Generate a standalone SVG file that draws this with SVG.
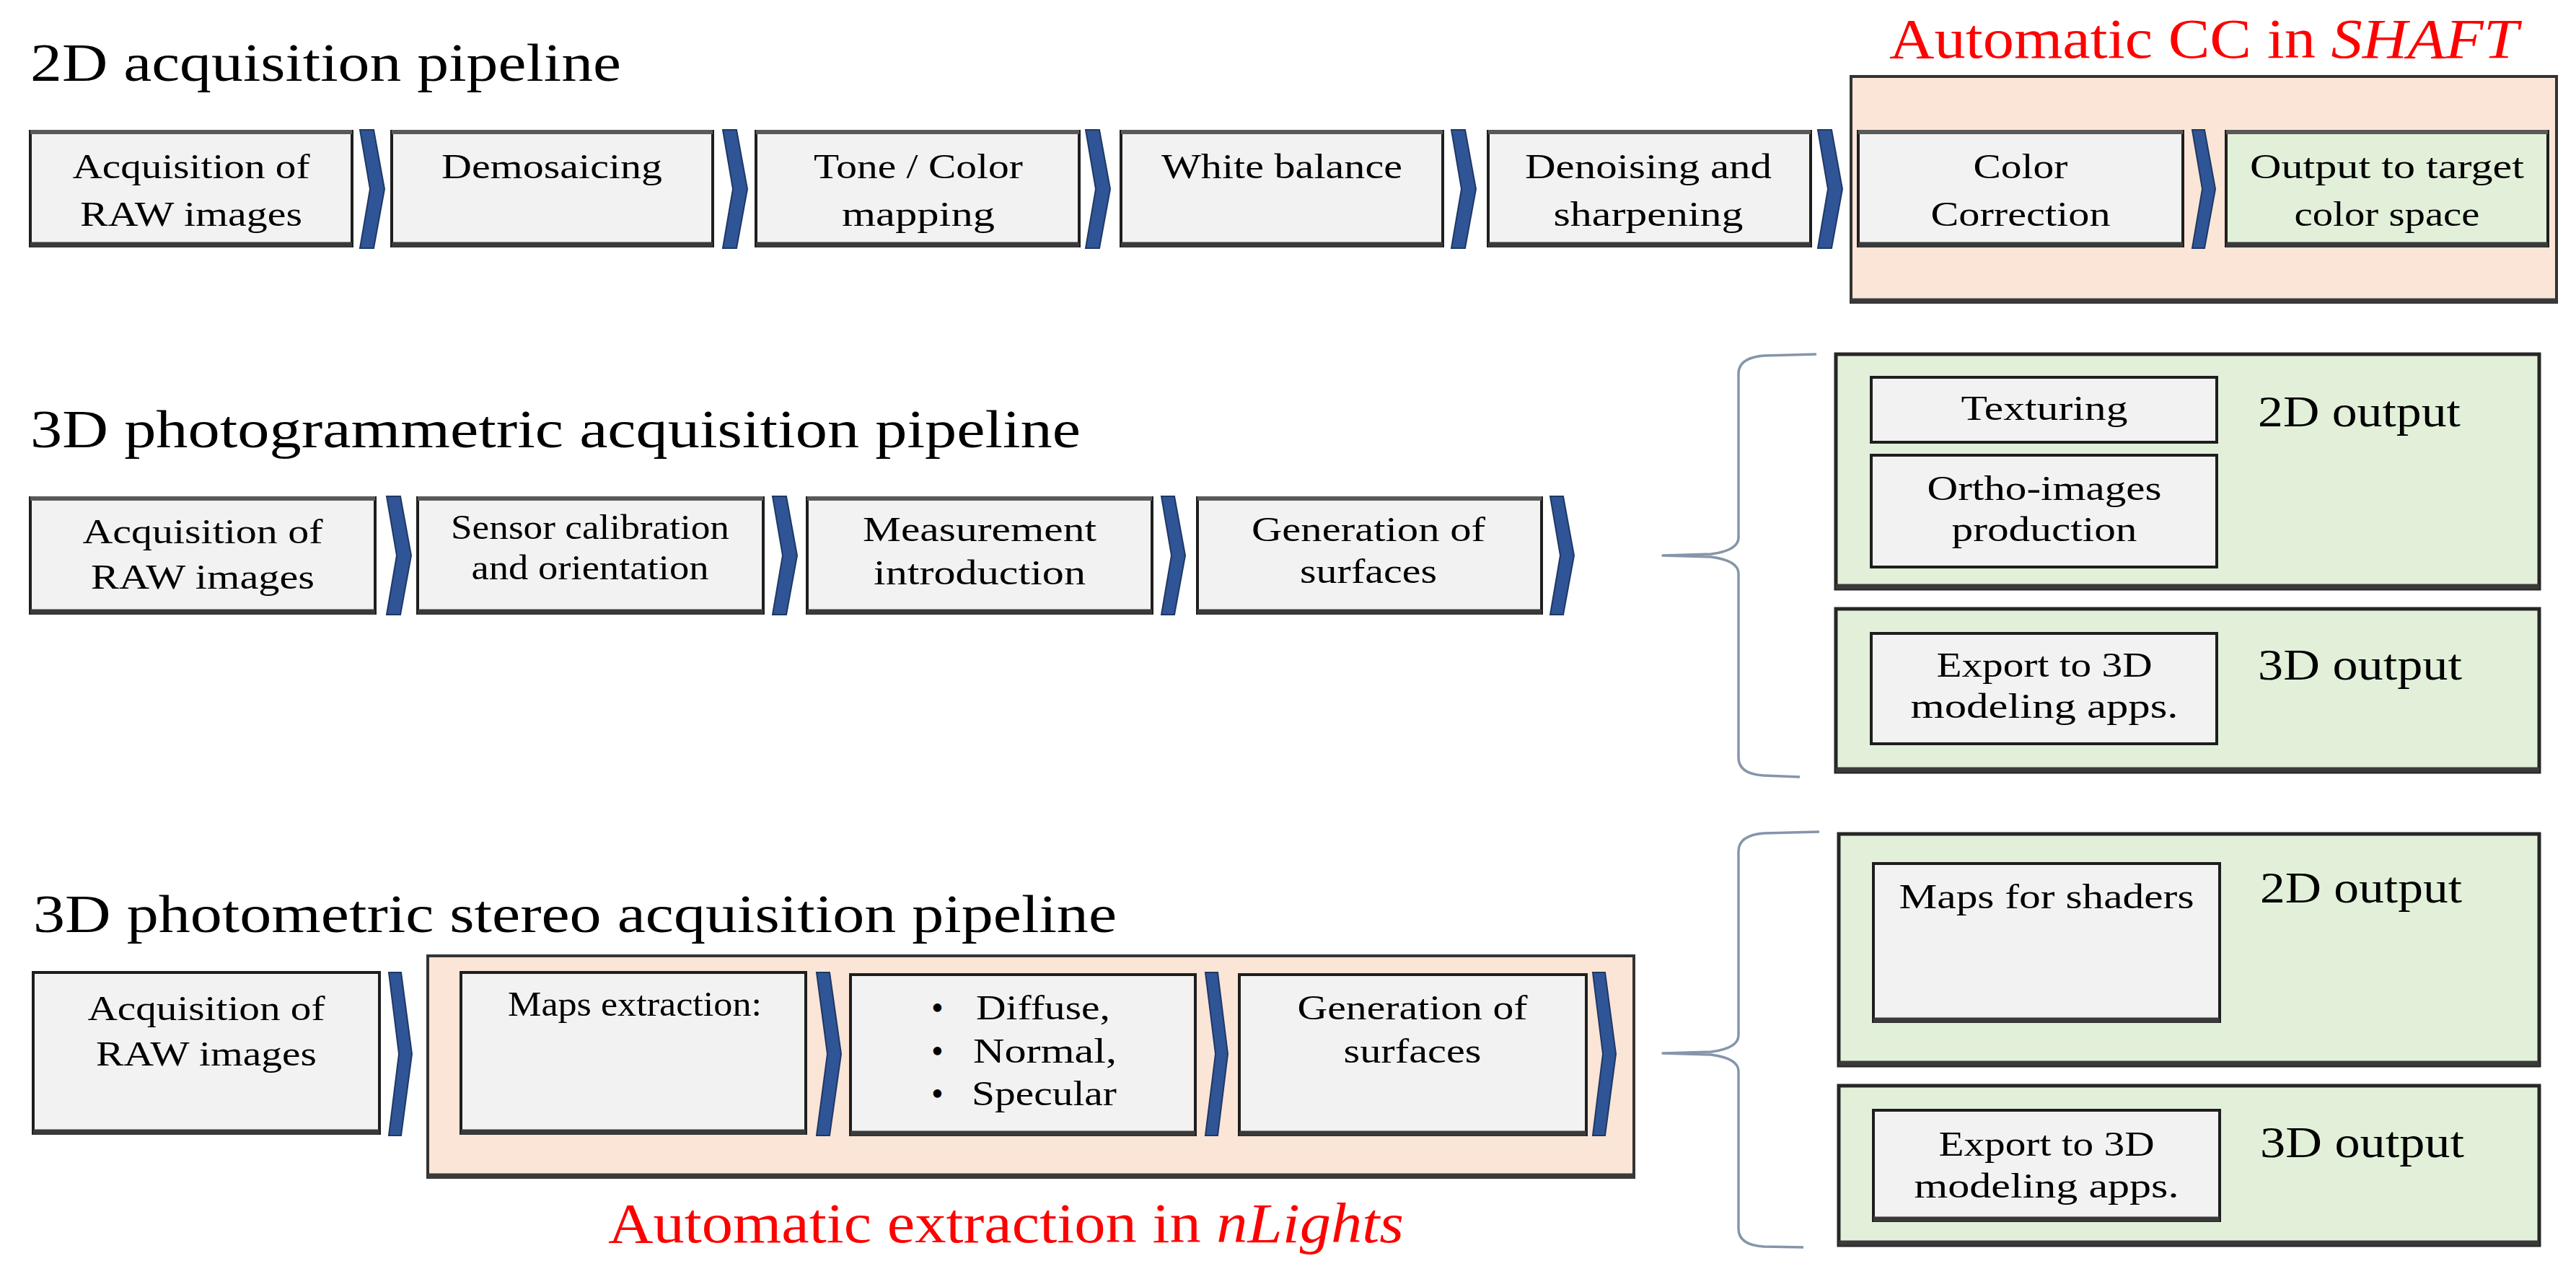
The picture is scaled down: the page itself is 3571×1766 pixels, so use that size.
<svg xmlns="http://www.w3.org/2000/svg" width="3571" height="1766" viewBox="0 0 3571 1766">
<style>
  text { font-family: "Liberation Serif", "Times New Roman", serif; fill: #000; }
  .title { font-size: 74px; }
  .bt { font-size: 48px; text-anchor: middle; }
  .bl { font-size: 48px; }
  .out { font-size: 62px; }
  .red { font-size: 78px; fill: #FF0000; }
  .box { fill: #F2F2F2; stroke: #1E1E1E; stroke-width: 4; }
  .topband { stroke: #595959; stroke-width: 6; }
  .botband { stroke: #3A3A3A; stroke-width: 7; }
  .grp-orange { fill: #FBE5D6; stroke: #333333; stroke-width: 4; }
  .grp-green { fill: #E2F0D9; stroke: #262626; stroke-width: 5; }
  .green-box { fill: #E2F0D9; stroke: #1E1E1E; stroke-width: 4; }
  .chev { fill: #2F5597; stroke: #1F3864; stroke-width: 2; stroke-linejoin: miter; }
  .brace { fill: none; stroke: #8595AA; stroke-width: 3.5; stroke-linejoin: round; }
</style>

<!-- Titles -->
<g id="titles">
  <text class="title" x="42" y="112" textLength="819" lengthAdjust="spacingAndGlyphs">2D acquisition pipeline</text>
  <text class="title" x="42" y="620" textLength="1456" lengthAdjust="spacingAndGlyphs">3D photogrammetric acquisition pipeline</text>
  <text class="title" x="46" y="1292" textLength="1502" lengthAdjust="spacingAndGlyphs">3D photometric stereo acquisition pipeline</text>
</g>

<!-- Group containers -->
<g id="group-shaft">
  <rect class="grp-orange" x="2566" y="106" width="978" height="313"/>
  <line class="botband" x1="2566" y1="417" x2="3544" y2="417"/>
  <text class="red" x="2619" y="80" textLength="872" lengthAdjust="spacingAndGlyphs">Automatic CC in <tspan font-style="italic">SHAFT</tspan></text>
</g>
<g id="group-nlights">
  <rect class="grp-orange" x="593" y="1325" width="1672" height="307"/>
  <line class="botband" x1="593" y1="1630" x2="2265" y2="1630"/>
  <text class="red" x="843" y="1722" textLength="1103" lengthAdjust="spacingAndGlyphs">Automatic extraction in <tspan font-style="italic">nLights</tspan></text>
</g>

<!-- Row 1: 2D acquisition pipeline -->
<g id="r1-acq">
  <rect class="box" x="42" y="182" width="446" height="159"/>
  <line class="topband" x1="42" y1="183" x2="488" y2="183"/>
  <line class="botband" x1="42" y1="339" x2="488" y2="339"/>
  <text class="bt" x="265" y="247" textLength="329" lengthAdjust="spacingAndGlyphs">Acquisition of</text>
  <text class="bt" x="265" y="313" textLength="308" lengthAdjust="spacingAndGlyphs">RAW images</text>
</g>
<g id="r1-demosaicing">
  <rect class="box" x="543" y="182" width="445" height="159"/>
  <line class="topband" x1="543" y1="183" x2="988" y2="183"/>
  <line class="botband" x1="543" y1="339" x2="988" y2="339"/>
  <text class="bt" x="765" y="247" textLength="306" lengthAdjust="spacingAndGlyphs">Demosaicing</text>
</g>
<g id="r1-tone">
  <rect class="box" x="1048" y="182" width="448" height="159"/>
  <line class="topband" x1="1048" y1="183" x2="1496" y2="183"/>
  <line class="botband" x1="1048" y1="339" x2="1496" y2="339"/>
  <text class="bt" x="1273" y="247" textLength="290" lengthAdjust="spacingAndGlyphs">Tone / Color</text>
  <text class="bt" x="1273" y="313" textLength="212" lengthAdjust="spacingAndGlyphs">mapping</text>
</g>
<g id="r1-wb">
  <rect class="box" x="1554" y="182" width="446" height="159"/>
  <line class="topband" x1="1554" y1="183" x2="2000" y2="183"/>
  <line class="botband" x1="1554" y1="339" x2="2000" y2="339"/>
  <text class="bt" x="1777" y="247" textLength="334" lengthAdjust="spacingAndGlyphs">White balance</text>
</g>
<g id="r1-denoise">
  <rect class="box" x="2063" y="182" width="447" height="159"/>
  <line class="topband" x1="2063" y1="183" x2="2510" y2="183"/>
  <line class="botband" x1="2063" y1="339" x2="2510" y2="339"/>
  <text class="bt" x="2285" y="247" textLength="342" lengthAdjust="spacingAndGlyphs">Denoising and</text>
  <text class="bt" x="2285" y="313" textLength="263" lengthAdjust="spacingAndGlyphs">sharpening</text>
</g>
<g id="r1-cc">
  <rect class="box" x="2576" y="182" width="450" height="159"/>
  <line class="topband" x1="2576" y1="183" x2="3026" y2="183"/>
  <line class="botband" x1="2576" y1="339" x2="3026" y2="339"/>
  <text class="bt" x="2801" y="247" textLength="131" lengthAdjust="spacingAndGlyphs">Color</text>
  <text class="bt" x="2801" y="313" textLength="249" lengthAdjust="spacingAndGlyphs">Correction</text>
</g>
<g id="r1-output">
  <rect class="green-box" x="3086" y="182" width="446" height="159"/>
  <line class="topband" x1="3086" y1="183" x2="3532" y2="183"/>
  <line class="botband" x1="3086" y1="339" x2="3532" y2="339"/>
  <text class="bt" x="3309" y="247" textLength="380" lengthAdjust="spacingAndGlyphs">Output to target</text>
  <text class="bt" x="3309" y="313" textLength="257" lengthAdjust="spacingAndGlyphs">color space</text>
</g>

<!-- Row 2: 3D photogrammetric -->
<g id="r2-acq">
  <rect class="box" x="42" y="690" width="478" height="160"/>
  <line class="topband" x1="42" y1="691" x2="520" y2="691"/>
  <line class="botband" x1="42" y1="848" x2="520" y2="848"/>
  <text class="bt" x="281" y="753" textLength="333" lengthAdjust="spacingAndGlyphs">Acquisition of</text>
  <text class="bt" x="281" y="816" textLength="310" lengthAdjust="spacingAndGlyphs">RAW images</text>
</g>
<g id="r2-sensor">
  <rect class="box" x="579" y="690" width="479" height="160"/>
  <line class="topband" x1="579" y1="691" x2="1058" y2="691"/>
  <line class="botband" x1="579" y1="848" x2="1058" y2="848"/>
  <text class="bt" x="818" y="747" textLength="386" lengthAdjust="spacingAndGlyphs">Sensor calibration</text>
  <text class="bt" x="818" y="803" textLength="329" lengthAdjust="spacingAndGlyphs">and orientation</text>
</g>
<g id="r2-measure">
  <rect class="box" x="1119" y="690" width="478" height="160"/>
  <line class="topband" x1="1119" y1="691" x2="1597" y2="691"/>
  <line class="botband" x1="1119" y1="848" x2="1597" y2="848"/>
  <text class="bt" x="1358" y="750" textLength="324" lengthAdjust="spacingAndGlyphs">Measurement</text>
  <text class="bt" x="1358" y="810" textLength="294" lengthAdjust="spacingAndGlyphs">introduction</text>
</g>
<g id="r2-gen">
  <rect class="box" x="1660" y="690" width="477" height="160"/>
  <line class="topband" x1="1660" y1="691" x2="2137" y2="691"/>
  <line class="botband" x1="1660" y1="848" x2="2137" y2="848"/>
  <text class="bt" x="1897" y="750" textLength="324" lengthAdjust="spacingAndGlyphs">Generation of</text>
  <text class="bt" x="1897" y="808" textLength="190" lengthAdjust="spacingAndGlyphs">surfaces</text>
</g>

<!-- Row 2 outputs -->
<g id="r2-out2d">
  <rect class="grp-green" x="2545" y="491" width="975" height="325"/>
  <line class="botband" x1="2545" y1="813" x2="3520" y2="813"/>
  <text class="out" x="3130" y="591" textLength="281" lengthAdjust="spacingAndGlyphs">2D output</text>
</g>
<g id="r2-texturing">
  <rect class="box" x="2594" y="523" width="479" height="90"/>
  <text class="bt" x="2834" y="582" textLength="231" lengthAdjust="spacingAndGlyphs">Texturing</text>
</g>
<g id="r2-ortho">
  <rect class="box" x="2594" y="631" width="479" height="155"/>
  <text class="bt" x="2834" y="693" textLength="325" lengthAdjust="spacingAndGlyphs">Ortho-images</text>
  <text class="bt" x="2834" y="750" textLength="257" lengthAdjust="spacingAndGlyphs">production</text>
</g>
<g id="r2-out3d">
  <rect class="grp-green" x="2545" y="844" width="975" height="226"/>
  <line class="botband" x1="2545" y1="1067" x2="3520" y2="1067"/>
  <text class="out" x="3130" y="942" textLength="283" lengthAdjust="spacingAndGlyphs">3D output</text>
</g>
<g id="r2-export">
  <rect class="box" x="2594" y="878" width="479" height="153"/>
  <text class="bt" x="2834" y="938" textLength="299" lengthAdjust="spacingAndGlyphs">Export to 3D</text>
  <text class="bt" x="2834" y="995" textLength="371" lengthAdjust="spacingAndGlyphs">modeling apps.</text>
</g>

<!-- Row 3: 3D photometric stereo -->
<g id="r3-acq">
  <rect class="box" x="46" y="1348" width="480" height="223"/>
  <line class="botband" x1="46" y1="1569" x2="526" y2="1569"/>
  <text class="bt" x="286" y="1414" textLength="329" lengthAdjust="spacingAndGlyphs">Acquisition of</text>
  <text class="bt" x="286" y="1477" textLength="306" lengthAdjust="spacingAndGlyphs">RAW images</text>
</g>
<g id="r3-maps">
  <rect class="box" x="639" y="1348" width="478" height="223"/>
  <line class="botband" x1="639" y1="1569" x2="1117" y2="1569"/>
  <text class="bt" x="880" y="1408" font-size="44" textLength="352" lengthAdjust="spacingAndGlyphs">Maps extraction:</text>
</g>
<g id="r3-bullets">
  <rect class="box" x="1179" y="1351" width="478" height="222"/>
  <line class="botband" x1="1179" y1="1571" x2="1657" y2="1571"/>
  <text class="bl" x="1291" y="1413">•</text>
  <text class="bl" x="1353" y="1413" textLength="186" lengthAdjust="spacingAndGlyphs">Diffuse,</text>
  <text class="bl" x="1291" y="1473">•</text>
  <text class="bl" x="1349" y="1473" textLength="199" lengthAdjust="spacingAndGlyphs">Normal,</text>
  <text class="bl" x="1291" y="1532">•</text>
  <text class="bl" x="1347" y="1532" textLength="201" lengthAdjust="spacingAndGlyphs">Specular</text>
</g>
<g id="r3-gen">
  <rect class="box" x="1718" y="1351" width="481" height="222"/>
  <line class="botband" x1="1718" y1="1571" x2="2199" y2="1571"/>
  <text class="bt" x="1958" y="1413" textLength="319" lengthAdjust="spacingAndGlyphs">Generation of</text>
  <text class="bt" x="1958" y="1473" textLength="191" lengthAdjust="spacingAndGlyphs">surfaces</text>
</g>

<!-- Row 3 outputs -->
<g id="r3-out2d">
  <rect class="grp-green" x="2549" y="1156" width="971" height="321"/>
  <line class="botband" x1="2549" y1="1474" x2="3520" y2="1474"/>
  <text class="out" x="3133" y="1251" textLength="280" lengthAdjust="spacingAndGlyphs">2D output</text>
</g>
<g id="r3-shaders">
  <rect class="box" x="2597" y="1197" width="480" height="219"/>
  <line class="botband" x1="2597" y1="1414" x2="3077" y2="1414"/>
  <text class="bt" x="2837" y="1259" textLength="409" lengthAdjust="spacingAndGlyphs">Maps for shaders</text>
</g>
<g id="r3-out3d">
  <rect class="grp-green" x="2549" y="1505" width="971" height="221"/>
  <line class="botband" x1="2549" y1="1723" x2="3520" y2="1723"/>
  <text class="out" x="3133" y="1604" textLength="283" lengthAdjust="spacingAndGlyphs">3D output</text>
</g>
<g id="r3-export">
  <rect class="box" x="2597" y="1539" width="480" height="153"/>
  <line class="botband" x1="2597" y1="1690" x2="3077" y2="1690"/>
  <text class="bt" x="2837" y="1602" textLength="299" lengthAdjust="spacingAndGlyphs">Export to 3D</text>
  <text class="bt" x="2837" y="1660" textLength="367" lengthAdjust="spacingAndGlyphs">modeling apps.</text>
</g>

<!-- Connectors: chevrons and braces -->
<g id="connectors">
  <!-- row 1 chevrons: t=180 m=262 b=344 -->
  <polygon class="chev" points="499,180 518,180 533,262 518,344 499,344 513,262"/>
  <polygon class="chev" points="1002,180 1021,180 1036,262 1021,344 1002,344 1016,262"/>
  <polygon class="chev" points="1505,180 1524,180 1539,262 1524,344 1505,344 1519,262"/>
  <polygon class="chev" points="2012,180 2031,180 2046,262 2031,344 2012,344 2026,262"/>
  <polygon class="chev" points="2520,180 2539,180 2554,262 2539,344 2520,344 2534,262"/>
  <polygon class="chev" points="3039,180 3056,180 3071,262 3056,344 3039,344 3053,262"/>
  <!-- row 2 chevrons: t=688 m=770 b=852 -->
  <polygon class="chev" points="536,688 555,688 570,770 555,852 536,852 550,770"/>
  <polygon class="chev" points="1071,688 1090,688 1105,770 1090,852 1071,852 1085,770"/>
  <polygon class="chev" points="1610,688 1628,688 1643,770 1628,852 1610,852 1624,770"/>
  <polygon class="chev" points="2149,688 2167,688 2182,770 2167,852 2149,852 2163,770"/>
  <!-- row 3 chevrons: t=1348 m=1461 b=1574 -->
  <polygon class="chev" points="539,1348 556,1348 571,1461 556,1574 539,1574 553,1461"/>
  <polygon class="chev" points="1132,1348 1150,1348 1166,1461 1150,1574 1132,1574 1147,1461"/>
  <polygon class="chev" points="1671,1348 1688,1348 1702,1461 1688,1574 1671,1574 1685,1461"/>
  <polygon class="chev" points="2208,1348 2225,1348 2240,1461 2225,1574 2208,1574 2222,1461"/>
  <!-- braces -->
  <path class="brace" d="M 2518 491 L 2445 493 Q 2410 496 2410 518 L 2410 745 Q 2410 763 2372 768 L 2305 770 L 2372 772 Q 2410 777 2410 795 L 2410 1050 Q 2410 1073 2445 1075 L 2495 1077"/>
  <path class="brace" d="M 2522 1153 L 2445 1155 Q 2410 1158 2410 1180 L 2410 1435 Q 2410 1453 2372 1458 L 2305 1460 L 2372 1462 Q 2410 1467 2410 1485 L 2410 1703 Q 2410 1726 2445 1728 L 2500 1729"/>
</g>
</svg>
